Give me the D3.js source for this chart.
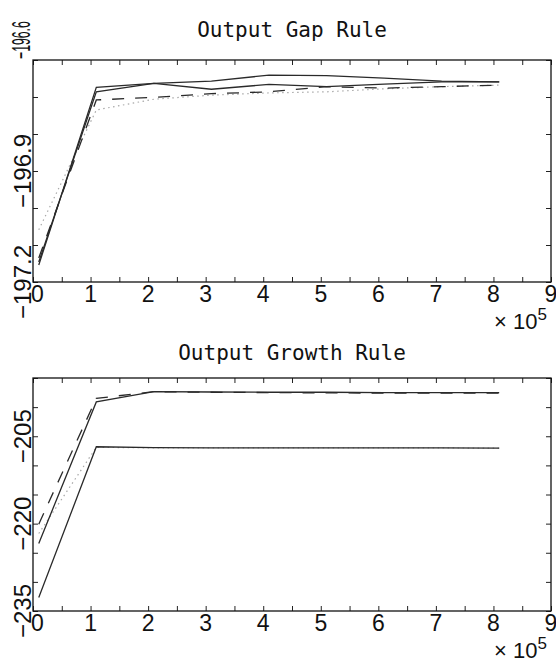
<!DOCTYPE html>
<html>
<head>
<meta charset="utf-8">
<script src="https://d3js.org/d3.v7.min.js"></script>
<style>
  html, body { margin: 0; padding: 0; background: #fff; }
  svg { display: block; }
</style>
</head>
<body>
<div id="chart"></div>
<script>
// ---------- data ----------
const xValues = [10000, 110000, 210000, 310000, 410000, 510000, 610000, 710000, 810000];

// Output Gap Rule
const gapSolidA  = [-197.154, -196.674, -196.663, -196.657, -196.641, -196.642, -196.649, -196.657, -196.659];
const gapSolidB  = [-197.146, -196.686, -196.663, -196.679, -196.666, -196.672, -196.665, -196.659, -196.659];
const gapDashed  = [-197.135, -196.708, -196.701, -196.691, -196.686, -196.672, -196.676, -196.672, -196.668];
const gapDotted  = [-197.059, -196.735, -196.706, -196.695, -196.689, -196.686, -196.678, -196.672, -196.668];

// Output Growth Rule
const growSolidA = [-223.4, -199.1, -197.35, -197.4, -197.45, -197.45, -197.5, -197.5, -197.5];
const growDashed = [-220.1, -198.5, -197.35, -197.45, -197.5, -197.55, -197.6, -197.6, -197.6];
const growDotted = [-221.7, -206.9, -207.0, -207.0, -207.0, -207.0, -207.0, -207.0, -207.05];
const growSolidB = [-232.7, -206.8, -206.95, -207.0, -207.0, -207.0, -207.0, -207.0, -207.05];

const xTickValues = [0, 50000, 100000, 150000, 200000, 250000, 300000, 350000, 400000, 450000, 500000, 550000, 600000, 650000, 700000, 750000, 800000, 850000, 900000];
const xLabelValues = [0, 100000, 200000, 300000, 400000, 500000, 600000, 700000, 800000, 900000];

const gapYTicks = [-197.2, -197.1, -197.0, -196.9, -196.8, -196.7, -196.6];
const gapYLabels = [-197.2, -196.9, -196.6];
const growYTicks = [-235, -230, -225, -220, -215, -210, -205, -200, -195];
const growYLabels = [-235, -220, -205];

const titles = ["Output Gap Rule", "Output Growth Rule"];

// ---------- drawing ----------
const W = 556, H = 662;
const svg = d3.select("#chart").append("svg").attr("width", W).attr("height", H);

const styles = {
  solid:  { stroke: "#2a2a2a", width: 1.3, dash: null },
  dashed: { stroke: "#2a2a2a", width: 1.3, dash: "12,11" },
  dotted: { stroke: "#a8a8a8", width: 1.2, dash: "1.5,3.5" }
};

function panel(cfg) {
  const { top, bottom, left, right, yDomain, yTicks, yLabels, series, title, titleY, yFmt } = cfg;
  const x = d3.scaleLinear().domain([0, 900000]).range([left, right]);
  const y = d3.scaleLinear().domain(yDomain).range([bottom, top]);
  const g = svg.append("g");

  // title
  g.append("text")
    .attr("x", (left + right) / 2).attr("y", titleY)
    .attr("text-anchor", "middle")
    .attr("font-family", "DejaVu Sans Mono, monospace")
    .attr("font-size", 21)
    .attr("fill", "#111")
    .text(title);

  // lines
  const line = d3.line().x((d, i) => x(xValues[i])).y(d => y(d));
  series.forEach(s => {
    const st = styles[s.style];
    g.append("path").datum(s.values)
      .attr("d", line)
      .attr("fill", "none")
      .attr("stroke", st.stroke)
      .attr("stroke-width", st.width)
      .attr("stroke-dasharray", st.dash);
  });

  const tl = 5;
  const axB = d3.axisBottom(x).tickValues(xTickValues).tickSize(-tl).tickFormat("");
  const axT = d3.axisTop(x).tickValues(xTickValues).tickSize(-tl).tickFormat("");
  const axL = d3.axisLeft(y).tickValues(yTicks).tickSize(-tl).tickFormat("");
  const axR = d3.axisRight(y).tickValues(yTicks).tickSize(-tl).tickFormat("");
  [[axB, `translate(0,${bottom})`], [axT, `translate(0,${top})`], [axL, `translate(${left},0)`], [axR, `translate(${right},0)`]]
    .forEach(([ax, tr]) => {
      const a = g.append("g").attr("transform", tr).call(ax);
      a.select(".domain").remove();
      a.selectAll("line").attr("stroke", "#222").attr("stroke-width", 1);
    });

  // frame
  g.append("rect")
    .attr("x", left).attr("y", top)
    .attr("width", right - left).attr("height", bottom - top)
    .attr("fill", "none").attr("stroke", "#111").attr("stroke-width", 1.3);

  // x labels
  g.selectAll(".xl").data(xLabelValues).enter().append("text")
    .attr("x", (d, i) => x(d) + (i === 0 ? 4.5 : 0))
    .attr("y", bottom + 20)
    .attr("text-anchor", "middle")
    .attr("font-family", "Liberation Sans, Arial, sans-serif")
    .attr("font-size", 23)
    .attr("fill", "#111")
    .text(d => d / 100000);

  // x multiplier
  const mt = g.append("text")
    .attr("x", right - 4).attr("y", bottom + 47)
    .attr("text-anchor", "end")
    .attr("font-family", "Liberation Sans, Arial, sans-serif")
    .attr("font-size", 22)
    .attr("fill", "#111");
  mt.append("tspan").text("\u00d7 10");
  mt.append("tspan").attr("dy", -9).attr("font-size", 17).text("5");

  // y labels (rotated); the label at the top edge sits, squeezed, above the frame
  yLabels.forEach(d => {
    const atTop = Math.abs(y(d) - top) < 1;
    const t = g.append("text")
      .attr("font-family", "Liberation Sans, Arial, sans-serif")
      .attr("fill", "#111")
      .text(yFmt(d).replace("-", "\u2212"));
    if (atTop) {
      t.attr("transform", `translate(30,${y(d) - 1}) rotate(-90) scale(0.47,1)`)
        .attr("text-anchor", "start")
        .attr("font-size", 26);
    } else {
      t.attr("transform", `translate(31,${y(d)}) rotate(-90)`)
        .attr("text-anchor", "middle")
        .attr("font-size", 24);
    }
  });
}

panel({
  top: 60, bottom: 282, left: 33, right: 551,
  yDomain: [-197.2, -196.6], yTicks: gapYTicks, yLabels: gapYLabels,
  title: titles[0], titleY: 37, yFmt: d3.format(".1f"),
  series: [
    { values: gapDotted, style: "dotted" },
    { values: gapDashed, style: "dashed" },
    { values: gapSolidB, style: "solid" },
    { values: gapSolidA, style: "solid" }
  ]
});

panel({
  top: 378, bottom: 611, left: 33, right: 551,
  yDomain: [-235, -195], yTicks: growYTicks, yLabels: growYLabels,
  title: titles[1], titleY: 360, yFmt: d3.format("d"),
  series: [
    { values: growDotted, style: "dotted" },
    { values: growDashed, style: "dashed" },
    { values: growSolidB, style: "solid" },
    { values: growSolidA, style: "solid" }
  ]
});
</script>
</body>
</html>
